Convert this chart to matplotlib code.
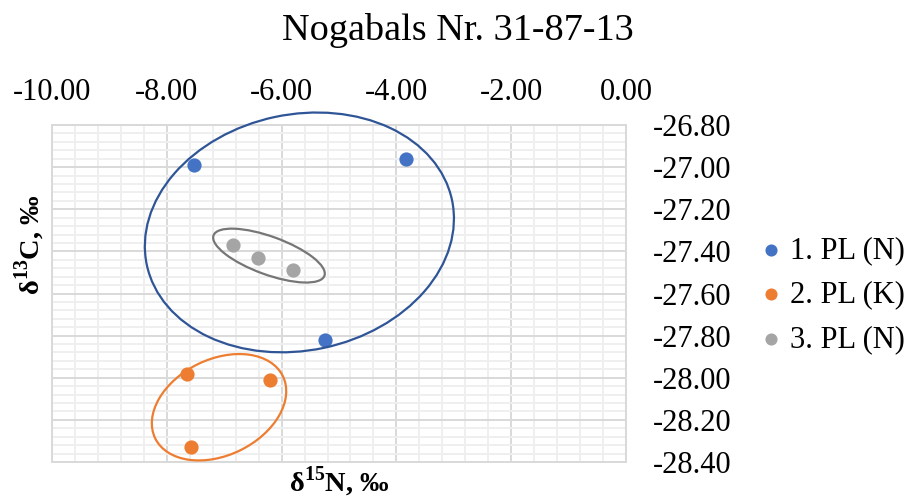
import numpy as np
import matplotlib
matplotlib.use("Agg")
import matplotlib.pyplot as plt
from matplotlib.patches import Ellipse
from matplotlib.transforms import ScaledTranslation
from matplotlib.ticker import MultipleLocator, FormatStrFormatter

# --- data (d15N, d13C) ---
labels = ["1. PL (N)", "2. PL (K)", "3. PL (N)"]
colors = ["#4472C4", "#ED7D31", "#A5A5A5"]
pl1_n = [-7.53, -3.83, -5.24]
pl1_c = [-26.99, -26.96, -27.82]
pl2_n = [-7.65, -6.20, -7.58]
pl2_c = [-27.98, -28.01, -28.33]
pl3_n = [-6.84, -6.41, -5.80]
pl3_c = [-27.37, -27.43, -27.49]

# group outlines: centre (data), semi-axes (px), tilt (deg), colour
ell_cx = [-5.69, -7.09, -6.22]
ell_cy = [-27.31, -28.14, -27.42]
ell_a = [156, 71, 59]
ell_b = [118, 48, 19]
ell_ang = [12, 26, -20]
ell_col = ["#2F5597", "#ED7D31", "#767676"]

plt.rcParams["font.family"] = ["Liberation Serif", "DejaVu Serif"]
plt.rcParams["mathtext.fontset"] = "custom"
plt.rcParams["mathtext.rm"] = "Liberation Serif"
plt.rcParams["mathtext.bf"] = "Liberation Serif:bold"

fig = plt.figure(figsize=(9.14, 4.99), dpi=100)
ax = fig.add_axes([52/914, 37/499, 574/914, 337/499])

ax.set_xlim(-10, 0)
ax.set_ylim(-28.4, -26.8)
ax.xaxis.set_major_locator(MultipleLocator(2))
ax.xaxis.set_minor_locator(MultipleLocator(0.4))
ax.yaxis.set_major_locator(MultipleLocator(0.2))
ax.yaxis.set_minor_locator(MultipleLocator(0.04))
ax.xaxis.set_major_formatter(FormatStrFormatter("%.2f"))
ax.yaxis.set_major_formatter(FormatStrFormatter("%.2f"))
ax.xaxis.tick_top(); ax.yaxis.tick_right()
ax.tick_params(which="both", length=0, labelsize=22)
ax.tick_params(axis="x", pad=13)
ax.tick_params(axis="y", pad=19)
ax.grid(which="major", color="#D9D9D9", lw=1.4)
ax.grid(which="minor", color="#EFEFEF", lw=1.4)
ax.set_axisbelow(True)
for s in ax.spines.values():
    s.set_color("#D9D9D9"); s.set_linewidth(1.4)

series = [(pl1_n, pl1_c), (pl2_n, pl2_c), (pl3_n, pl3_c)]
for (xs, ys), lab, c in zip(series, labels, colors):
    ax.scatter(xs, ys, s=105, color=c, label=lab, zorder=3, linewidths=0)

for cx, cy, a, b, ang, c in zip(ell_cx, ell_cy, ell_a, ell_b, ell_ang, ell_col):
    tr = fig.dpi_scale_trans + ScaledTranslation(cx, cy, ax.transData)
    ax.add_patch(Ellipse((0, 0), 2*a/100, 2*b/100, angle=ang, transform=tr,
                         fill=False, ec=c, lw=1.6, clip_on=False, zorder=4))

fig.legend(loc="center left", bbox_to_anchor=(762/914, 1-295/499), frameon=False,
           fontsize=22, handlelength=0.6, handletextpad=0.3, labelspacing=0.5,
           borderaxespad=0, borderpad=0, markerscale=0.85)

fig.text(458/914, 1-30/499, "Nogabals Nr. 31-87-13", fontsize=27.5, ha="center", va="center")
fig.text(339/914, 1-482/499, r"δ$^{\mathbf{15}}$N, ‰", fontsize=20.5, fontweight="bold",
         ha="center", va="center")
fig.text(30/914, 1-245/499, r"δ$^{\mathbf{13}}$C, ‰", fontsize=20.5, fontweight="bold",
         ha="center", va="center", rotation=90)

fig.savefig("out.png", dpi=100)
